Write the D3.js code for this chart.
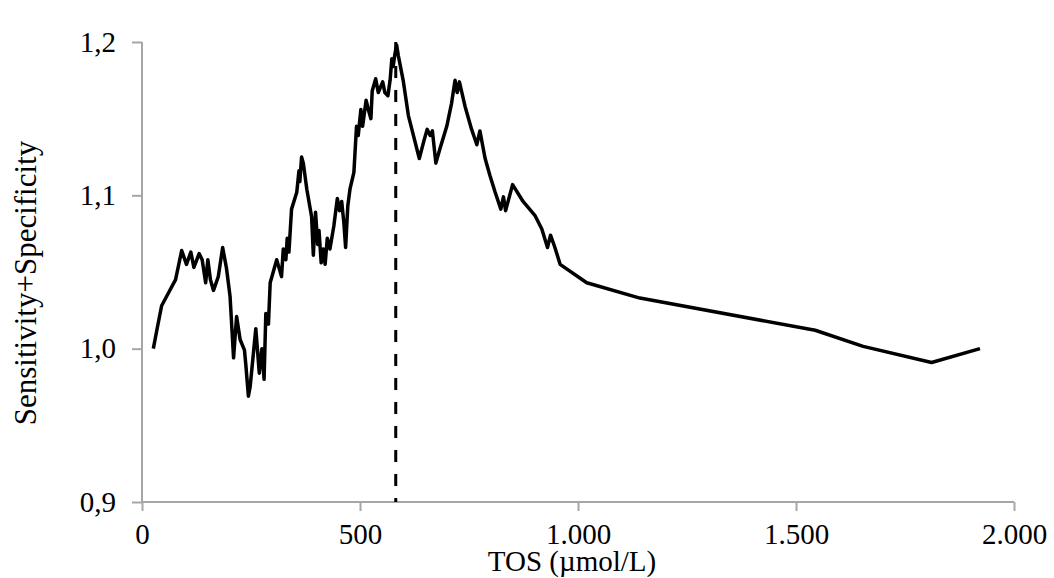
<!DOCTYPE html>
<html>
<head>
<meta charset="utf-8">
<script src="https://cdn.jsdelivr.net/npm/d3@7"></script>
<style>
  body { margin: 0; background: #fff; }
  text { font-family: "Liberation Serif", "Times New Roman", serif; fill: #000; }
</style>
</head>
<body>
<div id="chart"></div>
<script>
// TOS values (umol/L) and the matching sensitivity+specificity
const tos = [26, 34, 45, 60, 77, 91, 102, 112, 119, 131, 138, 146, 151, 157, 164, 175, 185, 194, 202, 210,
  217, 225, 235, 238, 244, 248, 261, 269, 275, 280, 284, 290, 294, 301, 309, 313, 320, 324, 330, 333,
  337, 343, 355, 360, 362, 366, 370, 378, 389, 393, 398, 403, 406, 411, 416, 420, 425, 431, 440, 448,
  453, 458, 463, 467, 472, 477, 486, 492, 496, 502, 506, 514, 519, 525, 528, 536, 542, 552, 557, 564,
  569, 573, 576, 580, 584, 588, 599, 611, 619, 636, 647, 654, 661, 666, 674, 683, 699, 710, 718, 723,
  728, 741, 756, 768, 775, 787, 798, 810, 823, 829, 834, 850, 874, 901, 917, 930, 937, 947, 959, 1020,
  1142, 1544, 1654, 1811, 1922];
const sensSpec = [1.000, 1.012, 1.028, 1.036, 1.045, 1.064, 1.055, 1.063, 1.053, 1.062, 1.058, 1.043, 1.058, 1.045, 1.038, 1.047, 1.066, 1.052, 1.034, 0.994,
  1.021, 1.006, 0.999, 0.990, 0.969, 0.975, 1.013, 0.984, 1.000, 0.980, 1.023, 1.016, 1.043, 1.050, 1.058, 1.054, 1.047, 1.065, 1.058, 1.072,
  1.063, 1.091, 1.102, 1.116, 1.109, 1.125, 1.121, 1.104, 1.086, 1.061, 1.089, 1.068, 1.077, 1.056, 1.065, 1.055, 1.072, 1.065, 1.080, 1.098,
  1.090, 1.096, 1.082, 1.066, 1.093, 1.104, 1.115, 1.145, 1.139, 1.156, 1.145, 1.162, 1.156, 1.150, 1.168, 1.176, 1.167, 1.174, 1.167, 1.165,
  1.175, 1.189, 1.184, 1.192, 1.198, 1.191, 1.175, 1.152, 1.143, 1.124, 1.136, 1.143, 1.139, 1.142, 1.121, 1.130, 1.145, 1.160, 1.175, 1.167,
  1.174, 1.158, 1.143, 1.133, 1.142, 1.124, 1.113, 1.102, 1.091, 1.099, 1.090, 1.107, 1.096, 1.087, 1.078, 1.066, 1.074, 1.066, 1.055, 1.043,
  1.033, 1.012, 1.0015, 0.991, 1.000];
const cutoff = 582;
const xTicks = [0, 500, 1000, 1500, 2000];
const yTicks = [0.9, 1.0, 1.1, 1.2];

const width = 1054;
const height = 578;
const margin = { top: 42, right: 40, bottom: 76, left: 142 };

const locale = d3.formatLocale({ decimal: ",", thousands: ".", grouping: [3], currency: ["", ""] });

const svg = d3.select('#chart').append('svg')
    .attr('width', width)
    .attr('height', height);

const x = d3.scaleLinear()
    .domain([0, 2000])
    .range([margin.left, width - margin.right]);

const y = d3.scaleLinear()
    .domain([0.9, 1.2])
    .range([height - margin.bottom, margin.top]);

const xAxis = d3.axisBottom(x).tickValues(xTicks).tickSize(9).tickPadding(12)
    .tickFormat(locale.format(",.0f"));
const yAxis = d3.axisLeft(y).tickValues(yTicks).tickSize(10).tickPadding(16)
    .tickFormat(locale.format(".1f"));

const gx = svg.append('g')
    .attr('class', 'x axis')
    .attr('transform', 'translate(0,' + y(0.9) + ')')
    .call(xAxis);

const gy = svg.append('g')
    .attr('class', 'y axis')
    .attr('transform', 'translate(' + x(0) + ',0)')
    .call(yAxis);

[gx, gy].forEach(g => {
  g.select('.domain').attr('stroke', '#a6a6a6').attr('stroke-width', 2);
  g.selectAll('.tick line').attr('stroke', '#a6a6a6').attr('stroke-width', 2);
  g.selectAll('.tick text')
    .attr('fill', '#000')
    .style('font-family', '"Liberation Serif", serif')
    .style('font-size', '29px');
});
// axis lines stop at the plot range
gx.select('.domain').attr('d', 'M' + x(0) + ',0H' + x(2000));
gy.select('.domain').attr('d', 'M0,' + y(0.9) + 'V' + y(1.2));

// cut-off marker
svg.append('line')
    .attr('x1', x(cutoff)).attr('x2', x(cutoff))
    .attr('y1', y(1.2)).attr('y2', y(0.9))
    .attr('stroke', '#000')
    .attr('stroke-width', 3)
    .attr('stroke-dasharray', '12,12');

const line = d3.line()
    .x((d, i) => x(tos[i]))
    .y(d => y(d));

svg.append('path')
    .datum(sensSpec)
    .attr('d', line)
    .attr('fill', 'none')
    .attr('stroke', '#000')
    .attr('stroke-width', 3.5)
    .attr('stroke-linejoin', 'round');

svg.append('text')
    .attr('x', 572)
    .attr('y', 571)
    .attr('text-anchor', 'middle')
    .style('font-size', '29px')
    .text('TOS (µmol/L)');

svg.append('text')
    .attr('transform', 'translate(36,283) rotate(-90)')
    .attr('text-anchor', 'middle')
    .style('font-size', '31px')
    .text('Sensitivity+Specificity');
</script>
</body>
</html>
